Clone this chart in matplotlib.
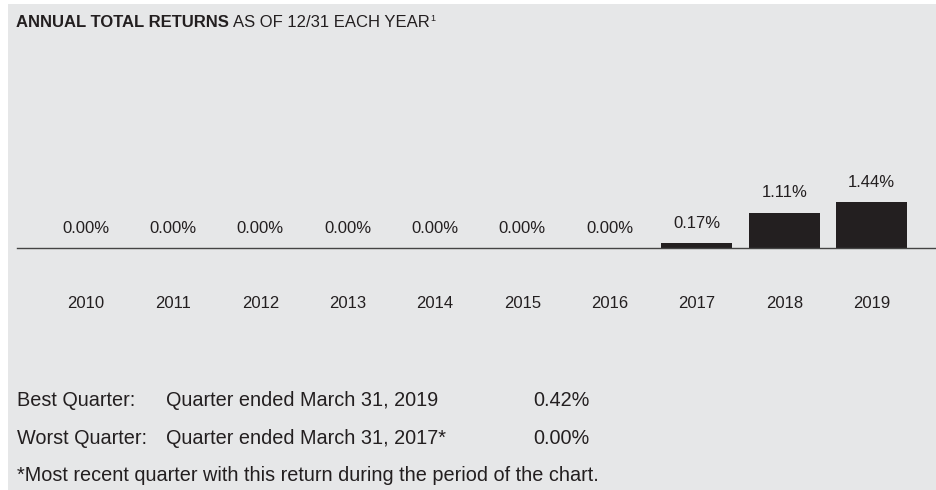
import matplotlib.pyplot as plt
from matplotlib.patches import Rectangle
from matplotlib.transforms import offset_copy

years = ["2010", "2011", "2012", "2013", "2014", "2015", "2016", "2017", "2018", "2019"]
returns = [0.00, 0.00, 0.00, 0.00, 0.00, 0.00, 0.00, 0.17, 1.11, 1.44]

quarter_rows = [
    ("Best Quarter:", "Quarter ended March 31, 2019", "0.42%"),
    ("Worst Quarter:", "Quarter ended March 31, 2017*", "0.00%"),
]
footnote = "*Most recent quarter with this return during the period of the chart."

plt.rcParams["font.family"] = ["Liberation Sans", "DejaVu Sans"]

bg = "#e6e7e8"
ink = "#231f20"
W, H = 937, 490

fig = plt.figure(figsize=(9.37, 4.9), dpi=100)
fig.add_artist(Rectangle((8 / W, 0), 1 - 8 / W, 1 - 4 / H, transform=fig.transFigure,
                         facecolor=bg, edgecolor="none", zorder=-10))

# axes: left at x=17px, right at edge, baseline at y=248.5px
base = 248.5
ax = fig.add_axes([17 / W, (H - base) / H, 1 - 17 / W, 108 / H])
ax.patch.set_visible(False)
x = list(range(len(years)))
ax.bar(x, returns, width=0.813, color=ink)
ax.set_xlim(-0.788, 9.75)
ax.set_ylim(0, 108 / 32.3)
for s in ["top", "right", "left"]:
    ax.spines[s].set_visible(False)
ax.spines["bottom"].set_color("#444444")
ax.spines["bottom"].set_linewidth(1.0)
ax.set_yticks([])
ax.set_xticks([])

# year labels below the baseline
trans = offset_copy(ax.get_xaxis_transform(), fig=fig, x=0, y=-(303 - base) * 0.72, units="points")
for xi, yr in zip(x, years):
    ax.text(xi, 0, yr, transform=trans, ha="center", va="center", fontsize=12, color=ink)

for xi, v in zip(x, returns):
    ax.annotate(f"{v:.2f}%", (xi, v), xytext=(0, 11), textcoords="offset points",
                ha="center", va="baseline", fontsize=12, color=ink)

# title
ty = 1 - 22.5 / H
t1 = fig.text(16 / W, ty, "ANNUAL TOTAL RETURNS", fontsize=12, fontweight="bold",
              color=ink, va="center", ha="left")
fig.canvas.draw()
bb = t1.get_window_extent()
t2 = fig.text(bb.x1 / W + 4 / W, ty, "AS OF 12/31 EACH YEAR", fontsize=12,
              color=ink, va="center", ha="left")
fig.canvas.draw()
bb2 = t2.get_window_extent()
fig.text(bb2.x1 / W + 1 / W, ty + 4 / H, "1", fontsize=6.5, color=ink, va="center", ha="left")

# quarter table
for i, (a, b, c) in enumerate(quarter_rows):
    y = 1 - (400 + 38 * i) / H
    fig.text(17 / W, y, a, fontsize=14.3, color=ink, va="center", ha="left")
    fig.text(166 / W, y, b, fontsize=14.3, color=ink, va="center", ha="left")
    fig.text(533 / W, y, c, fontsize=14.3, color=ink, va="center", ha="left")
fig.text(17 / W, 1 - 475 / H, footnote, fontsize=14.3, color=ink, va="center", ha="left")

fig.savefig("out.png", dpi=100)
